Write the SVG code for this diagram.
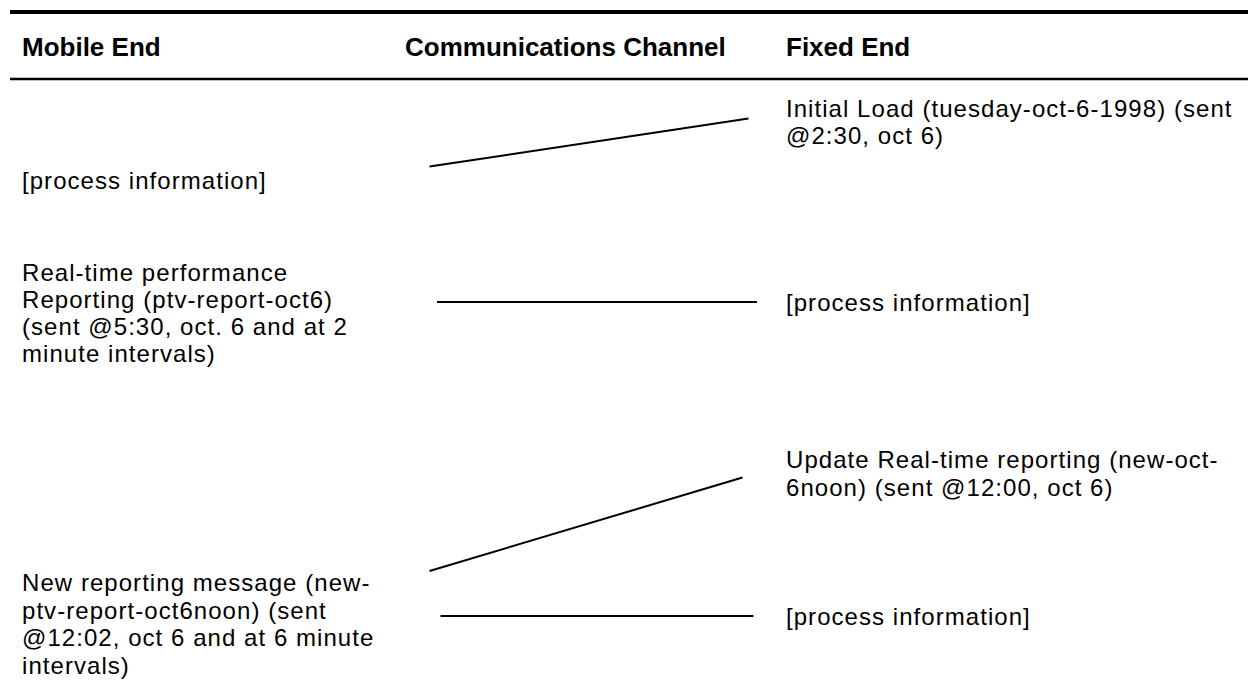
<svg xmlns="http://www.w3.org/2000/svg" width="1248" height="692" viewBox="0 0 1248 692">
  <style>
    .t { font-family: "Liberation Sans", Arial, sans-serif; font-size: 24px; letter-spacing: 1.05px; fill: #000; }
    .h { font-family: "Liberation Sans", Arial, sans-serif; font-size: 26px; font-weight: bold; fill: #000; }
    .c { stroke: #000; stroke-width: 2; fill: none; }
  </style>
  <rect width="1248" height="692" fill="#fff"/>
  <g id="table-rules">
    <line x1="10" y1="12" x2="1248" y2="12" stroke="#000" stroke-width="4"/>
    <line x1="10" y1="79" x2="1248" y2="79" stroke="#000" stroke-width="2.5"/>
  </g>
  <g id="headers">
    <text class="h" x="22" y="56">Mobile End</text>
    <text class="h" x="405" y="56">Communications Channel</text>
    <text class="h" x="786" y="56">Fixed End</text>
  </g>
  <g id="node-initial-load">
    <text class="t" x="786" y="117">Initial Load (tuesday-oct-6-1998) (sent</text>
    <text class="t" x="786" y="144">@2:30, oct 6)</text>
  </g>
  <g id="node-mobile-process-1">
    <text class="t" x="22" y="189">[process information]</text>
  </g>
  <g id="node-realtime-reporting">
    <text class="t" x="22" y="280.5">Real-time performance</text>
    <text class="t" x="22" y="307.5">Reporting (ptv-report-oct6)</text>
    <text class="t" x="22" y="334.5">(sent @5:30, oct. 6 and at 2</text>
    <text class="t" x="22" y="361.5">minute intervals)</text>
  </g>
  <g id="node-fixed-process-1">
    <text class="t" x="786" y="311">[process information]</text>
  </g>
  <g id="node-update-reporting">
    <text class="t" x="786" y="468">Update Real-time reporting (new-oct-</text>
    <text class="t" x="786" y="495.5">6noon) (sent @12:00, oct 6)</text>
  </g>
  <g id="node-new-reporting">
    <text class="t" x="22" y="591">New reporting message (new-</text>
    <text class="t" x="22" y="618.5">ptv-report-oct6noon) (sent</text>
    <text class="t" x="22" y="646">@12:02, oct 6 and at 6 minute</text>
    <text class="t" x="22" y="673.5">intervals)</text>
  </g>
  <g id="node-fixed-process-2">
    <text class="t" x="786" y="625">[process information]</text>
  </g>
  <g id="connectors">
    <line class="c" x1="429.5" y1="166.5" x2="748.5" y2="118.5"/>
    <line class="c" x1="437" y1="302" x2="757" y2="302"/>
    <line class="c" x1="429.5" y1="571" x2="742.5" y2="477.5"/>
    <line class="c" x1="440.5" y1="616" x2="753.5" y2="616"/>
  </g>
</svg>
